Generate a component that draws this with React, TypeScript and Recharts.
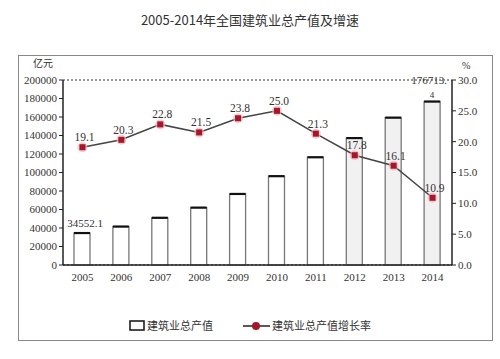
import {
  ComposedChart,
  Bar,
  Line,
  XAxis,
  YAxis,
  CartesianGrid,
  LabelList,
} from "recharts";

const years = ["2005", "2006", "2007", "2008", "2009", "2010", "2011", "2012", "2013", "2014"];
const output = [34552.1, 41557, 51044, 62037, 76808, 96031, 116463, 137218, 159313, 176713.4];
const growth = [19.1, 20.3, 22.8, 21.5, 23.8, 25.0, 21.3, 17.8, 16.1, 10.9];
const leftTicks = [0, 20000, 40000, 60000, 80000, 100000, 120000, 140000, 160000, 180000, 200000];
const rightTicks = [0, 5, 10, 15, 20, 25, 30];

const data = years.map((y, i) => ({ year: y, output: output[i], growth: growth[i] }));

const FONT = "Liberation Serif, Times New Roman, DejaVu Serif, serif";
const CJK = "Noto Sans CJK SC, sans-serif";
const serifStyle = { fontFamily: FONT };

// white box with gray sides and a darker top edge
function OutlinedBar(props: any) {
  const { x, y, width, height, index } = props;
  if (height == null || height <= 0) return null;
  const shade = index >= 7;
  return (
    <g>
      <rect x={x} y={y} width={width} height={height} fill={shade ? "#f1f1f1" : "#fff"} stroke="#777" strokeWidth={1.3} />
      <line x1={x} x2={x + width} y1={y} y2={y} stroke="#111" strokeWidth={2.2} />
    </g>
  );
}

function GrowthDot(props: any) {
  const { cx, cy } = props;
  if (cx == null || cy == null) return null;
  return (
    <g>
      <circle cx={cx} cy={cy} r={5} fill="#f4b3bb" opacity={0.7} />
      <rect x={cx - 3} y={cy - 3} width={6} height={6} fill="#a3182a" />
    </g>
  );
}

function barLabel(props: any) {
  const { x, y, width, index } = props;
  if (index === 0) {
    return (
      <text x={x + width / 2 + 3} y={y - 6} textAnchor="middle" fontSize={11} style={serifStyle} fill="#333">
        34552.1
      </text>
    );
  }
  if (index === years.length - 1) {
    return (
      <g>
        <text x={x + width / 2 - 3} y={y - 18} textAnchor="middle" fontSize={11} style={serifStyle} fill="#333">
          176713.
        </text>
        <text x={x + width / 2} y={y - 4} textAnchor="middle" fontSize={9} style={serifStyle} fill="#333">
          4
        </text>
      </g>
    );
  }
  return null;
}

function lineLabel(props: any) {
  const { x, y, value } = props;
  return (
    <text x={x + 2} y={y - 6} textAnchor="middle" fontSize={11.5} style={serifStyle} fill="#333">
      {Number(value).toFixed(1)}
    </text>
  );
}

const tickStyle = { fontSize: 11, fill: "#333", style: serifStyle };

export default function App() {
  return (
    <div style={{ position: "absolute", left: 0, top: 0, width: 500, height: 359, background: "#fff", fontFamily: FONT }}>
      <div
        style={{
          position: "absolute",
          left: 0,
          top: 10,
          width: 500,
          textAlign: "center",
          fontFamily: CJK,
          fontSize: 13,
          color: "#333",
        }}
      >
        2005-2014年全国建筑业总产值及增速
      </div>
      <div
        style={{
          position: "absolute",
          left: 18,
          top: 55,
          width: 475,
          height: 286,
          border: "1px solid #888",
          boxSizing: "border-box",
        }}
      />
      <div style={{ position: "absolute", left: 33, top: 57, fontSize: 10, lineHeight: "12px", fontFamily: CJK, color: "#333" }}>
        亿元
      </div>
      <div style={{ position: "absolute", left: 462, top: 60, fontSize: 10, lineHeight: "12px", fontFamily: FONT, color: "#333" }}>
        %
      </div>
      <div style={{ position: "absolute", left: 0, top: 0 }}>
        <ComposedChart
          width={500}
          height={359}
          data={data}
          margin={{ top: 80, right: 0, bottom: 64, left: 0 }}
          style={{ fontFamily: FONT }}
        >
          <CartesianGrid vertical={false} stroke="#333" strokeDasharray="2 2" strokeWidth={1.2} />
          <XAxis
            dataKey="year"
            tickLine={false}
            axisLine={{ stroke: "#222", strokeWidth: 1.5 }}
            tick={tickStyle}
            tickMargin={2}
          />
          <YAxis
            yAxisId="left"
            width={63}
            domain={[0, 200000]}
            ticks={leftTicks}
            interval={0}
            axisLine={{ stroke: "#222", strokeWidth: 1.5 }}
            tickLine={{ stroke: "#222" }}
            tickSize={4}
            tick={tickStyle}
          />
          <YAxis
            yAxisId="right"
            orientation="right"
            width={48}
            domain={[0, 30]}
            ticks={rightTicks}
            interval={0}
            tickFormatter={(v: number) => v.toFixed(1)}
            axisLine={{ stroke: "#222", strokeWidth: 1.5 }}
            tickLine={{ stroke: "#222" }}
            tickSize={4}
            tick={tickStyle}
          />
          <Bar yAxisId="left" dataKey="output" barSize={16} shape={OutlinedBar} isAnimationActive={false}>
            <LabelList dataKey="output" content={barLabel} />
          </Bar>
          <Line
            yAxisId="right"
            dataKey="growth"
            stroke="#444"
            strokeWidth={1.5}
            dot={GrowthDot}
            activeDot={false}
            isAnimationActive={false}
          >
            <LabelList dataKey="growth" content={lineLabel} />
          </Line>
        </ComposedChart>
      </div>
      {/* legend */}
      <svg style={{ position: "absolute", left: 0, top: 314 }} width={500} height={24}>
        <rect x={130} y={7} width={14} height={9} fill="#fff" stroke="#111" strokeWidth={1.5} />
        <text x={147} y={16} fontSize={11} style={{ fontFamily: CJK }} fill="#333">
          建筑业总产值
        </text>
        <line x1={243} x2={270} y1={12} y2={12} stroke="#222" strokeWidth={1.5} />
        <circle cx={256} cy={12} r={4} fill="#a3182a" />
        <text x={272} y={16} fontSize={11} style={{ fontFamily: CJK }} fill="#333">
          建筑业总产值增长率
        </text>
      </svg>
    </div>
  );
}
